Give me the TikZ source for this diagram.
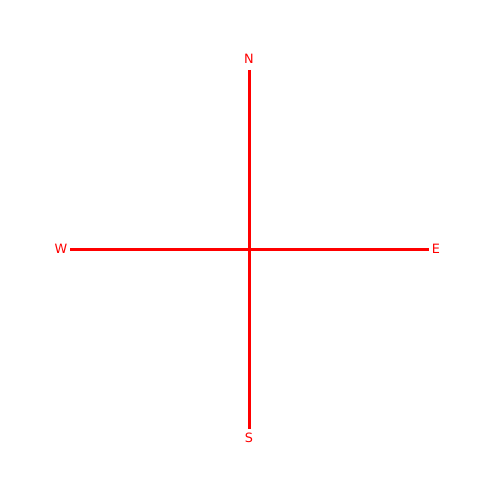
\documentclass[tikz,border=0pt]{standalone}
\usepackage{fontspec}
\setmainfont{DejaVu Sans}
\begin{document}
\begin{tikzpicture}[x=0.02cm,y=-0.02cm,
  axis/.style={draw=red,line width=0.06cm},
  lbl/.style={text=red,font=\fontsize{7.3pt}{8pt}\selectfont,inner sep=0pt}]
\useasboundingbox (0,0) rectangle (500,500);
\node[lbl] (N) at (249,59) {N};
\node[lbl] (S) at (249,438) {S};
\node[lbl] (W) at (61,249) {W};
\node[lbl] (E) at (436,249) {E};
\coordinate (nt) at (249,70);
\coordinate (sb) at (249,429);
\coordinate (wl) at (70,249);
\coordinate (er) at (429,249);
\draw[axis] (nt) -- (sb);
\draw[axis] (wl) -- (er);
\end{tikzpicture}
\end{document}
